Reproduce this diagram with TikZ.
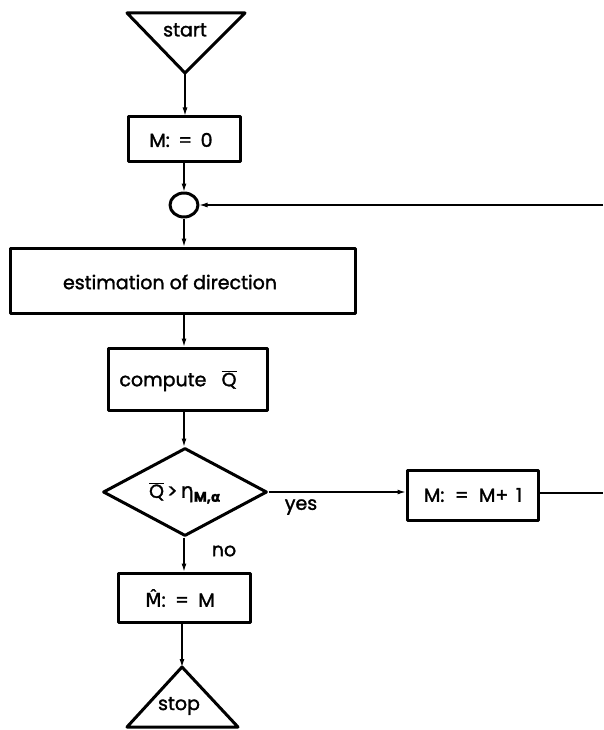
\documentclass[tikz,border=0pt]{standalone}
\usepackage{fontspec}
\setmainfont{Poppins}[FakeBold=1.6]
\newfontfamily\grk{DejaVu Sans}[FakeBold=1.2]
\usetikzlibrary{arrows.meta,shapes.geometric}
\begin{document}
\begin{tikzpicture}[x=1pt,y=-1pt,
  every node/.style={font=\fontsize{19}{22}\selectfont},
  shp/.style={line width=3pt, line join=round},
  box/.style={draw, shp, inner sep=0pt, anchor=center},
  conn/.style={line width=1.1pt},
  arr/.style={conn, -{Latex[length=8pt,width=5pt]}},
  lbl/.style={inner sep=0pt}]
\useasboundingbox (0,0) rectangle (603,730);
\coordinate (col) at (184,0);
% start
\draw[shp] (127,13) -- (245,13) -- (185,73) -- cycle;
\coordinate (startapex) at (185,73);
\node[lbl] (starttxt) at (185,30) {start};
% boxes
\node[box, minimum width=112pt, minimum height=45pt] (m0) at (184,139.5) {};
\node[lbl] (m0txt) at (181,140) {M:\hspace{0.45em}=\hspace{0.45em}0};
\node[draw, shp, ellipse, minimum width=28pt, minimum height=24pt, inner sep=0pt] (join) at (184,205) {};
\node[box, minimum width=345pt, minimum height=65pt] (est) at (182.5,280.5) {};
\node[lbl] (esttxt) at (170,282) {estimation of direction};
\node[box, minimum width=159pt, minimum height=62pt] (comp) at (187.5,379) {};
\node[lbl] (comptxt) at (178,381) {compute\hspace{0.8em}$\overline{\mbox{Q}}$};
\node[draw, shp, diamond, aspect=1.85, minimum width=164pt, minimum height=88pt, inner sep=0pt] (dec) at (185,492) {};
\node[lbl] (dectxt) at (185,493) {$\overline{\mbox{Q}}$\,>\,{\grk\fontsize{21}{24}\selectfont η}$_{\mbox{\fontsize{14}{16}\selectfont\bfseries M,\grk α}}$};
\node[box, minimum width=131pt, minimum height=50pt] (m1) at (472.5,495) {};
\node[lbl] (m1txt) at (473,495) {M:\hspace{0.55em}=\hspace{0.55em}M+\hspace{0.4em}1};
\node[box, minimum width=132pt, minimum height=49pt] (mhat) at (184,597.5) {};
\node[lbl] (mhattxt) at (180,598) {{\grk M̂}:\hspace{0.5em}=\hspace{0.5em}M};
% stop
\draw[shp] (127,727) -- (238,727) -- (182,667) -- cycle;
\coordinate (stopapex) at (182,667);
\node[lbl] (stoptxt) at (179,706) {stop};
% labels
\node[lbl] (yes) at (301,507) {yes};
\node[lbl] (no) at (224,551) {no};
% connectors
\coordinate (rtop) at (603,205);
\coordinate (rbot) at (603,493);
\draw[arr] (startapex) -- (m0.north -| startapex);
\draw[arr] (m0.south -| col) -- (join.north);
\draw[arr] (join.south) -- (est.north -| col);
\draw[arr] (est.south -| col) -- (comp.north -| col);
\draw[arr] (comp.south -| col) -- (dec.north -| col);
\draw[arr] (dec.south -| col) -- (mhat.north -| col);
\draw[arr] (mhat.south -| stopapex) -- (stopapex);
\draw[arr] (dec.east) -- (dec.east -| m1.west);
\draw[conn] (m1.east |- rbot) -- (rbot);
\draw[arr] (rtop) -- (join.east);
\end{tikzpicture}
\end{document}
